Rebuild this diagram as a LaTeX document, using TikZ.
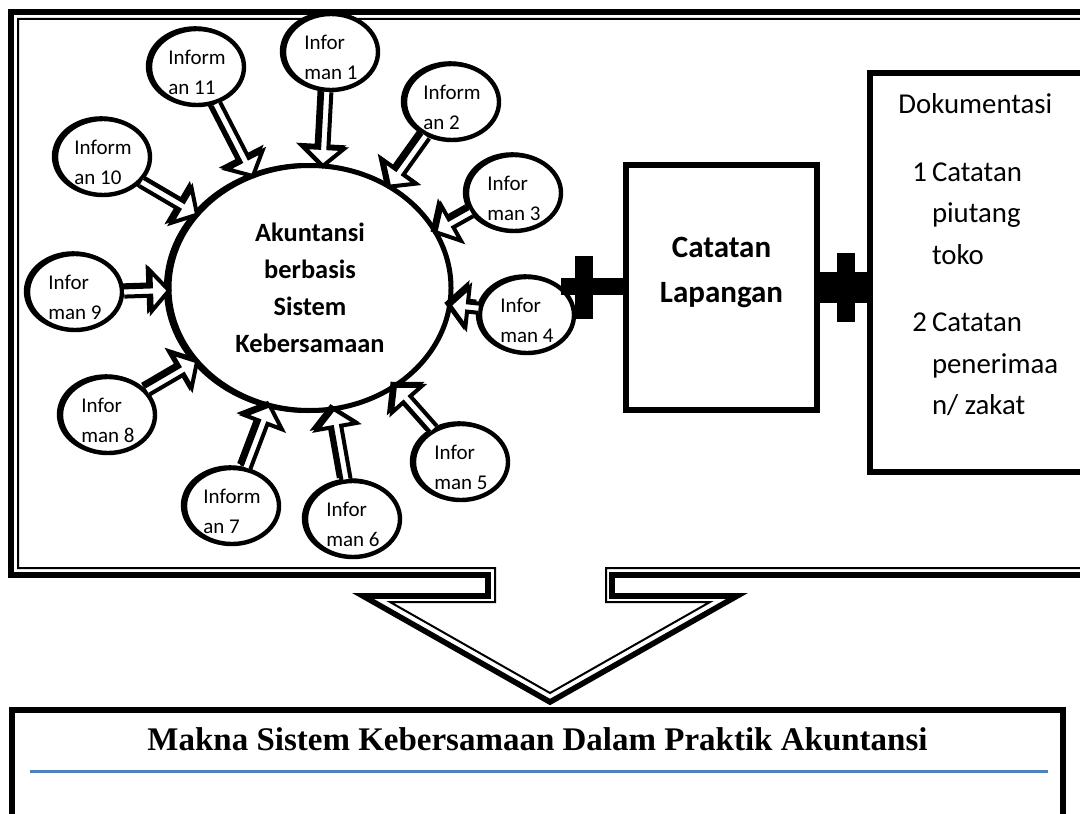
\documentclass[tikz,border=0pt]{standalone}
\usepackage{fontspec}
\setmainfont{Carlito}
\newfontfamily\titlefont{Liberation Serif}
\usetikzlibrary{shapes.geometric, positioning, calc}
\definecolor{rulecol}{RGB}{79,129,189}

% hollow block arrow from an informant to the hub
\newcommand\infarrow[2]{%
  \path let \p1=($(#1)-(#2)$), \n1={atan2(\y1,\x1)}, \n2={\n1+180} in
    (#2.\n1) coordinate (tip) (#1.\n2) coordinate (tail);
  \coordinate (neck) at ($(tip)!9pt!(tail)$);
  \draw[pointer] ($(tail)!2.3pt!90:(tip)$) -- ($(neck)!2.3pt!-90:(tail)$) -- ($(neck)!10pt!-90:(tail)$) -- (tip)
    -- ($(neck)!10pt!90:(tail)$) -- ($(neck)!2.3pt!90:(tail)$) -- ($(tail)!2.3pt!-90:(tip)$);
}

\begin{document}
\begin{tikzpicture}[x=0.5pt, y=-0.5pt,
    infotext/.style={align=left, inner sep=0pt, font=\fontsize{10.5}{15}\selectfont},
    info/.style={ellipse, draw, line width=2.2pt, fill=white, minimum width=47pt, minimum height=38pt, inner sep=0pt,
      preaction={draw, line width=2.2pt, transform canvas={shift={(-1pt,0.3pt)}}},
      path picture={\node[infotext] at ([yshift=-2.5pt]path picture bounding box.center) {#1};}},
    pointer/.style={line width=2pt, fill=white, line join=miter,
      preaction={draw, fill=black, line width=2pt, transform canvas={shift={(-1.3pt,1pt)}}}},
    crossbar/.style={fill=black, inner sep=0pt, minimum width=9pt},
    box/.style={draw, line width=3pt, inner sep=0pt}]
  \clip (0,0) rectangle (1080,813);

  % callout frame with the down arrow
  \draw[line width=2.8pt, line join=miter] (11,12) -- (1095,12) -- (1095,575) -- (612,575) -- (612,596) -- (737,596)
    -- (550,702) -- (363,596) -- (488,596) -- (488,575) -- (11,575) -- cycle;
  \draw[line width=1pt, line join=miter] (18,19) -- (1095,19) -- (1095,568) -- (606,568) -- (606,602) -- (710,602)
    -- (550,693) -- (390,602) -- (495,602) -- (495,568) -- (18,568) -- cycle;

  \node[ellipse, draw, fill=white, line width=2.5pt, outer sep=0pt, minimum width=141pt, minimum height=122.5pt, inner sep=0pt,
    preaction={draw, line width=2.5pt, transform canvas={shift={(-1.3pt,0pt)}}},
    align=center, font=\fontsize{13.2}{18.5}\selectfont\bfseries] (hub) at (310,288) {Akuntansi\\berbasis\\Sistem\\Kebersamaan};

  \foreach \i/\pos/\txt in {1/{331,52}/{Infor\\man 1}, 2/{452,102}/{Inform\\an 2}, 3/{514,193}/{Infor\\man 3},
      4/{527,315}/{Infor\\man 4}, 5/{461,462}/{Infor\\man 5}, 6/{353,519}/{Infor\\man 6}, 7/{232,506}/{Inform\\an 7},
      8/{108,415}/{Infor\\man 8}, 9/{75,292}/{Infor\\man 9}, 10/{103,157}/{Inform\\an 10}, 11/{197,67}/{Inform\\an 11}}
    \node[info=\txt] (inf\i) at (\pos) {};
  \foreach \i in {1,...,11}
    \infarrow{inf\i}{hub};

  % field notes and documents
  \node[box, minimum width=95.5pt, minimum height=122.5pt] (field) at (721.5,287.5) {};
  \node[align=center, font=\fontsize{15.5}{22.5}\selectfont\bfseries] (fieldlabel) at (721.5,272.5) {Catatan\\Lapangan};
  \node[box, fill=white, outer sep=0pt, minimum width=115pt, minimum height=199.5pt, anchor=north west] (docs) at (870,73) {};
  \node[anchor=base west, inner sep=0pt, font=\fontsize{14.4}{20.75}\selectfont] (doctitle) at (898,113) {Dokumentasi};
  \node[anchor=north west, inner sep=0pt, font=\fontsize{14.4}{20.75}\selectfont] (doclist) at (912,152)
    {\begin{tabular}{@{}l@{\hspace{2.5pt}}l@{}}1 & Catatan\\ & piutang\\ & toko\\[13pt] 2 & Catatan\\ & penerimaa\\ & n/ zakat\end{tabular}};

  \draw[line width=8.5pt] (inf4.40) -- (inf4.40 -| field.west);
  \node[crossbar, minimum height=31.5pt] (crossL) at (584,287) {};
  \draw[line width=15.5pt] (field.east) -- (field.east -| docs.west);
  \node[crossbar, minimum height=34.5pt] (crossR) at (846,287.5) {};

  % meaning box
  \node[box, outer sep=0pt, minimum width=525.5pt, minimum height=60pt, anchor=north west] (meaning) at (12,710) {};
  \node[anchor=base, inner sep=0pt, font=\titlefont\fontsize{16.5}{20}\selectfont\bfseries] (title) at (537.5,750)
    {Makna Sistem Kebersamaan Dalam Praktik Akuntansi};
  \draw[rulecol, line width=1.75pt] (30,771.5) -- (1048,771.5);
\end{tikzpicture}
\end{document}
